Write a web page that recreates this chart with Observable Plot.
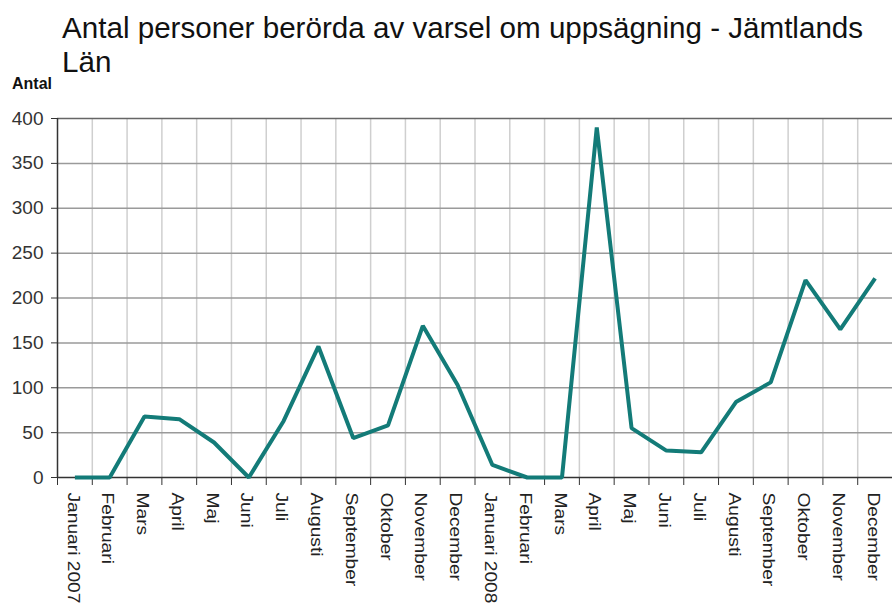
<!DOCTYPE html>
<html>
<head>
<meta charset="utf-8">
<script src="https://cdn.jsdelivr.net/npm/d3@7"></script>
<script src="https://cdn.jsdelivr.net/npm/@observablehq/plot@0.6"></script>
<style>
  html, body { margin: 0; padding: 0; background: #fff; }
  #wrap { position: relative; width: 892px; height: 605px; overflow: hidden; font-family: "Liberation Sans", Arial, sans-serif; }
  #title { position: absolute; left: 62px; top: 11px; font-size: 29.6px; line-height: 34px; color: #111; width: 830px; }
  #ylab { position: absolute; left: 12px; top: 75px; font-size: 16px; font-weight: bold; color: #111; }
  #chart { position: absolute; left: 0; top: 110px; }
</style>
</head>
<body>
<div id="wrap">
  <div id="title">Antal personer berörda av varsel om uppsägning - Jämtlands Län</div>
  <div id="ylab">Antal</div>
  <div id="chart"></div>
</div>
<script>
const months = ["Januari 2007","Februari","Mars","April","Maj","Juni","Juli","Augusti","September","Oktober","November","December",
                "Januari 2008","Februari","Mars","April","Maj","Juni","Juli","Augusti","September","Oktober","November","December"];
const values = [0, 0, 68, 65, 39, 0, 63, 146, 44, 58, 169, 103,
                14, 0, 0, 390, 55, 30, 28, 84, 106, 220, 165, 222];
const yTicks = [0, 50, 100, 150, 200, 250, 300, 350, 400];

const data = months.map((m, i) => ({i, month: m, value: values[i]}));
const idx = months.map((m, i) => i);
const bounds = d3.range(months.length + 1).map(i => i - 0.5);

const plot = Plot.plot({
  width: 892,
  height: 495,
  marginTop: 8,
  marginBottom: 128,
  marginLeft: 57,
  marginRight: 0,
  style: {fontFamily: "Liberation Sans, Arial, sans-serif", background: "transparent", overflow: "visible"},
  x: {type: "linear", domain: [-0.5, months.length - 0.5]},
  y: {domain: [0, 400]},
  marks: [
    Plot.ruleX(bounds.slice(1, -1), {stroke: "#cfcfcf", strokeWidth: 1.5}),
    Plot.ruleY(yTicks.slice(1, -1), {stroke: "#9a9a9a", strokeWidth: 1.5}),
    Plot.ruleY([400], {stroke: "#666", strokeWidth: 1.5}),
    Plot.axisY({ticks: yTicks, tickSize: 6, tickPadding: 8, fontSize: 19, color: "#333", label: null}),
    Plot.axisX({ticks: bounds, tickSize: 8, tickFormat: () => "", label: null, color: "#333"}),
    Plot.axisX({ticks: idx, tickSize: 0, tickPadding: 15, tickFormat: i => months[i], rotate: 90, textAnchor: "start",
                fontSize: 16, color: "#222", label: null}),
    Plot.ruleY([0], {stroke: "#333", strokeWidth: 1.5}),
    Plot.ruleX([-0.5], {stroke: "#333", strokeWidth: 1.5}),
    Plot.line(data, {x: "i", y: "value", stroke: "#137b78", strokeWidth: 4, strokeLinejoin: "miter", strokeLinecap: "butt"})
  ]
});
document.getElementById("chart").appendChild(plot);
// stretch rotated month labels along their length and centre them on their month
const tweak = " scale(1.2,1) translate(0,-4)";
plot.querySelectorAll("text").forEach(el => {
  const t = el.getAttribute("transform") || "";
  if (t.includes("rotate(")) el.setAttribute("transform", t + tweak);
});
plot.querySelectorAll("g").forEach(g => {
  const t = g.getAttribute("transform") || "";
  if (t.includes("rotate(")) {
    g.querySelectorAll("text").forEach(el => {
      el.setAttribute("transform", (el.getAttribute("transform") || "") + tweak);
    });
  }
});
</script>
</body>
</html>
